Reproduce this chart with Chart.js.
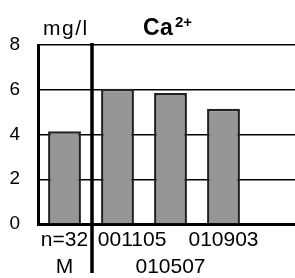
<!DOCTYPE html>
<html>
<head>
<meta charset="utf-8">
<script src="https://cdn.jsdelivr.net/npm/chart.js@4/dist/chart.umd.min.js"></script>
<style>
    html, body { margin: 0; padding: 0; overflow: hidden; background: #fff; }
    #wrap { width: 306px; height: 278px; }
</style>
</head>
<body>
<div id="wrap"><canvas id="cachart"></canvas></div>
<script>
// values (mg/l)
var labelTop = ['n=32', '001105', '', '010903', ''];
var labelBottom = ['M', '', '010507', '', ''];
var values = [4.15, 6.05, 5.85, 5.15, null];
var yTicks = [0, 2, 4, 6, 8];

var labels = labelTop.map(function (item, i) {
    return [item, labelBottom[i]];
});

var fontName = '"Liberation Sans", Arial, sans-serif';

// separator line + header texts
var extras = {
    id: 'extras',
    afterDraw: function (chart) {
        var ctx = chart.ctx;
        var area = chart.chartArea;
        var x = chart.scales.x;
        var sepX = (x.getPixelForValue(0) + x.getPixelForValue(1)) / 2 + 1;

        ctx.save();
        ctx.strokeStyle = '#000';
        ctx.lineWidth = 3.5;
        ctx.beginPath();
        ctx.moveTo(sepX, area.top - 2);
        ctx.lineTo(sepX, 273);
        ctx.stroke();

        ctx.fillStyle = '#000';
        ctx.textBaseline = 'alphabetic';
        ctx.textAlign = 'left';
        ctx.letterSpacing = '1.5px';
        ctx.font = '21px ' + fontName;
        ctx.fillText('mg/l', area.left + 5, area.top - 10);

        ctx.letterSpacing = '0.5px';
        ctx.font = 'bold 23px ' + fontName;
        ctx.fillText('Ca', area.left + 105, area.top - 10);
        ctx.letterSpacing = '0px';
        ctx.font = 'bold 15px ' + fontName;
        ctx.fillText('2+', area.left + 137, area.top - 18);
        ctx.restore();
    }
};

var ctx = document.getElementById('cachart').getContext('2d');
var myChart = new Chart(ctx, {
    type: 'bar',
    data: {
        labels: labels,
        datasets: [{
            data: values,
            backgroundColor: '#969696',
            borderColor: '#222',
            borderWidth: 2.5,
            categoryPercentage: 1,
            barPercentage: 0.62
        }]
    },
    options: {
        responsive: true,
        maintainAspectRatio: false,
        animation: false,
        layout: {
            padding: { left: 0, right: 3, top: 45, bottom: 0 }
        },
        plugins: {
            legend: { display: false },
            tooltip: { enabled: false }
        },
        scales: {
            x: {
                grid: { display: false, drawTicks: false },
                border: { display: true, color: '#000', width: 3 },
                ticks: {
                    color: '#000',
                    padding: 2,
                    maxRotation: 0,
                    autoSkip: false,
                    font: { family: fontName, size: 21, lineHeight: 1.31 },
                    callback: function (value, index) {
                        var l = this.getLabelForValue(value);
                        // first date label sits right of the separator
                        if (index === 1) {
                            return ['     ' + l[0], l[1]];
                        }
                        return l;
                    }
                },
                afterFit: function (scale) { scale.height = 54; }
            },
            y: {
                min: 0,
                max: 8,
                afterBuildTicks: function (scale) {
                    scale.ticks = yTicks.map(function (v) { return { value: v }; });
                },
                grid: { color: '#000', lineWidth: 1.5, drawTicks: false },
                border: { display: true, color: '#000', width: 3 },
                ticks: {
                    color: '#000',
                    padding: 18,
                    font: { family: fontName, size: 19 }
                },
                afterFit: function (scale) { scale.width = 38; }
            }
        }
    },
    plugins: [extras]
});
</script>
</body>
</html>
